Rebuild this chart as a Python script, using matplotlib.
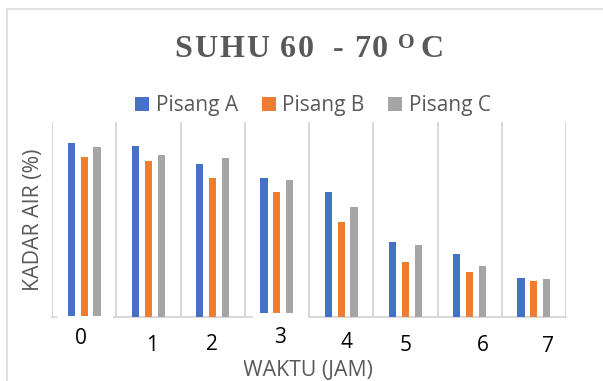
import matplotlib
matplotlib.use("Agg")
import matplotlib.pyplot as plt
import matplotlib.transforms as mtransforms
from matplotlib.patches import Rectangle
import numpy as np

categories = ["0", "1", "2", "3", "4", "5", "6", "7"]
pisang_a = [89.2, 87.7, 78.5, 71.3, 64.1, 38.5, 32.3, 20.0]
pisang_b = [82.1, 80.0, 71.3, 64.1, 48.7, 28.2, 23.1, 18.5]
pisang_c = [87.2, 83.1, 81.5, 70.3, 56.4, 36.9, 26.2, 19.5]
series_names = ["Pisang A", "Pisang B", "Pisang C"]
colors = ["#4472C4", "#ED7D31", "#A5A5A5"]
title_main = "SUHU 60  - 70 "
title_sup = "O"
title_end = "C"

# per-label offsets (pixels) of the staggered tick labels
label_dx = [-3, 4, -1, 3, 5, 0, 13, 14]
label_dy = [6.5, -0.5, 0.5, 7.5, 2.5, 0, 0, -1]

W, H = 603, 381
fig = plt.figure(figsize=(W / 100, H / 100), dpi=100)
fig.patch.set_facecolor("white")
renderer = fig.canvas.get_renderer()

# outer chart border
fig.add_artist(Rectangle((7 / W, -0.1), 1.2, 1 - 9 / H + 0.1,
                         transform=fig.transFigure, fill=False,
                         edgecolor="#D9D9D9", linewidth=1.2))

ax = fig.add_axes([52 / W, 64 / H, 514 / W, 195 / H])
x = np.arange(len(categories))
w = 0.11
off = 0.2
bars = []
for i, (vals, c) in enumerate(zip([pisang_a, pisang_b, pisang_c], colors)):
    b = ax.bar(x + (i - 1) * off, vals, width=w, color=c, label=series_names[i], zorder=3)
    bars.append(b)

ax.set_xlim(-0.5, len(categories) - 0.5)
ax.set_ylim(0, 100)
for xb in np.arange(-0.5, len(categories), 1.0):
    ax.axvline(xb, color="#D9D9D9", linewidth=1.5, zorder=1)
for s in ["top", "left", "right"]:
    ax.spines[s].set_visible(False)
ax.spines["bottom"].set_color("#D9D9D9")
ax.spines["bottom"].set_linewidth(1.5)
ax.set_yticks([])
ax.set_xticks(x)
ax.set_xticklabels(categories, fontsize=15, family="Open Sans", color="#000000", va="center")
ax.tick_params(axis="x", length=0, pad=20.2)
for lbl, dx, dy in zip(ax.get_xticklabels(), label_dx, label_dy):
    lbl.set_transform(lbl.get_transform() +
                      mtransforms.ScaledTranslation(dx / 100, dy / 100, fig.dpi_scale_trans))

# white label boxes overlapping the axis line (as in the reference)
for (x0, x1, y0) in [(57, 113, 315.5), (253, 308, 312.5)]:
    fig.add_artist(Rectangle((x0 / W, 1 - 326 / H), (x1 - x0) / W, (326 - y0) / H,
                             transform=fig.transFigure, facecolor="white",
                             edgecolor="none", zorder=2))

fig.text(34 / W, 1 - 220 / H, "KADAR AIR (%)", rotation=90, ha="center", va="center",
         fontsize=15.3, family="Open Sans", color="#595959")
xl = fig.text(308 / W, 1 - 370 / H, "WAKTU (JAM)", ha="center", va="center",
              fontsize=15.3, family="Open Sans", color="#595959")
xl.set_clip_box(mtransforms.Bbox.from_extents(244, 0, W, H))
xl.set_clip_on(True)

# title with letter spacing, fitted to the reference width
title_color = "#595959"
tfont = dict(family="Liberation Serif", fontweight="bold", color=title_color)
title_width = 269.0
title_center = 308.5
track = 3.5
space_w = 13.0
base_y = 1 - 57 / H
sup_y = 1 - 47.5 / H
pieces = [(ch, 23, base_y, track) for ch in title_main]
pieces.append((title_sup, 15.5, sup_y, 8.0))
pieces.append((title_end, 23, base_y, 0))
items = []
for ch, size, yy, gap in pieces:
    if ch == " ":
        items.append((None, 0.0, space_w))
        continue
    t = fig.text(0, yy, ch, fontsize=size, ha="left", va="baseline", **tfont)
    bb = t.get_window_extent(renderer)
    items.append((t, bb.width, gap))
ink = sum(wd for t, wd, g in items if t is not None)
gaps = sum(g for t, wd, g in items[:-1])
scale = (title_width - ink) / gaps
cursor = title_center - title_width / 2
for t, wd, g in items:
    if t is not None:
        t.set_x(cursor / W)
    cursor += wd + g * scale

fig.legend(handles=bars, labels=series_names, loc="center", bbox_to_anchor=(313 / W, 1 - 106 / H),
           ncol=3, frameon=False, prop={"family": "Open Sans", "size": 15},
           handlelength=0.67, handleheight=0.67, handletextpad=0.3, columnspacing=1.15,
           labelcolor="#595959")

fig.savefig("out.png", dpi=100, facecolor="white")
